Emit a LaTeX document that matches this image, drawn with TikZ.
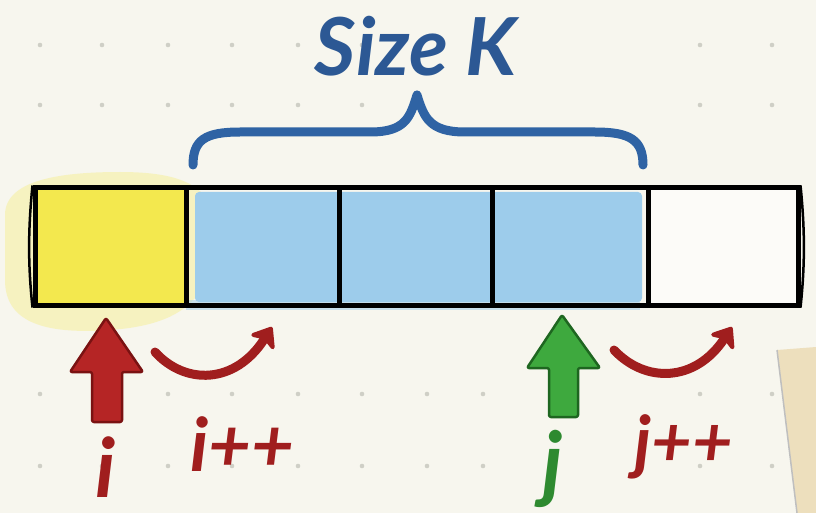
\documentclass[tikz,border=0pt]{standalone}
\usepackage{fontspec}
\setmainfont{Lato}
\usetikzlibrary{arrows.meta}
\definecolor{bg}{HTML}{F7F6EE}
\definecolor{dotc}{HTML}{CFCFC6}
\definecolor{cellyellow}{HTML}{F3E84E}
\definecolor{glowyellow}{HTML}{F6EE8A}
\definecolor{cellblue}{HTML}{9DCCEB}
\definecolor{txtblue}{HTML}{2C5894}
\definecolor{bracec}{HTML}{2F63A4}
\definecolor{redfill}{HTML}{B52525}
\definecolor{redline}{HTML}{7A1212}
\definecolor{redtxt}{HTML}{A01E1E}
\definecolor{greenfill}{HTML}{3EA93E}
\definecolor{greenline}{HTML}{1E6620}
\definecolor{greentxt}{HTML}{2E8A30}
\definecolor{notec}{HTML}{EDDFBD}
\tikzset{
  cellbox/.style={draw=black, line width=5pt, inner sep=0pt, minimum width=#1, minimum height=117pt},
  blockred/.style={fill=redfill, draw=redline, line width=2.5pt, line join=round, rounded corners=2pt},
  blockgreen/.style={fill=greenfill, draw=greenline, line width=2.5pt, line join=round, rounded corners=2pt},
  curvearrow/.style={draw=redtxt, line width=9pt, line cap=round, -{Stealth[length=22pt, width=34pt, inset=6pt, round]}},
  lbl/.style={font=\fontsize{#1}{#1}\selectfont\bfseries\itshape, inner sep=0pt, anchor=base},
  dotmark/.style={fill=dotc}
}
\begin{document}
\begin{tikzpicture}[x=1pt, y=-1pt]
\useasboundingbox (0,0) rectangle (816,513);
\fill[bg] (0,0) rectangle (816,513);
% dot grid
\foreach \yy in {45,105,394,466} {
  \foreach \xx in {40,102,168,232,298,362,700,772} {
    \fill[dotmark] (\xx,\yy) circle (2.3pt);
  }
}
\foreach \xx in {102,267,360,562,632,702,773} { \fill[dotmark] (\xx,248) circle (2.3pt); }
\foreach \xx in {427,483} { \fill[dotmark] (\xx,394) circle (2.3pt); \fill[dotmark] (\xx,466) circle (2.3pt); }
% sticky note
\fill[notec] (777,350) -- (816,347) -- (816,513) -- (797,513) -- cycle;
\draw[black!25, line width=1.5pt] (777,350) -- (797,513);
% yellow glow
\fill[glowyellow, opacity=0.45] (5,215) .. controls (5,180) and (60,172) .. (120,172) .. controls (180,172) and (215,185) .. (215,230) .. controls (215,300) and (180,325) .. (110,330) .. controls (40,335) and (5,320) .. (5,280) -- cycle;
% fills
\fill[cellyellow] (37,190) rectangle (185,303);
\fill[cellblue, rounded corners=4pt] (195,192) rectangle (642,302);
\fill[cellblue, opacity=0.5] (186,300) rectangle (640,310);
\fill[white!60!bg] (650,190) rectangle (797,303);
% cells
\node[cellbox=151pt] (c1) at (110.5,246.5) {};
\node[cellbox=153pt] (c2) at (262.5,246.5) {};
\node[cellbox=153pt] (c3) at (415.5,246.5) {};
\node[cellbox=156pt] (c4) at (570,246.5) {};
\node[cellbox=150pt] (c5) at (723,246.5) {};
\draw[line width=2.5pt] (c1.north west) .. controls (28,230) and (28,265) .. (c1.south west);
\draw[line width=2.5pt] (c5.north east) .. controls (805,230) and (805,265) .. (c5.south east);
% brace
\coordinate (bl) at (193,165);
\coordinate (bt) at (417,95);
\coordinate (br) at (643,165);
\draw[bracec, line width=9pt, line cap=round, line join=round]
  (bl) .. controls (193,140) and (205,132) .. (240,132) -- (370,132)
  .. controls (405,132) and (410,118) .. (bt)
  .. controls (424,118) and (430,132) .. (465,132) -- (595,132)
  .. controls (630,132) and (643,140) .. (br);
\node[font=\fontsize{80}{80}\selectfont\bfseries\itshape, text=txtblue, inner sep=0pt] (size) at (416,46) {Size K};
% i arrow
\draw[blockred] (106,318) -- (143,372) -- (122,372) -- (122,422) -- (92,422) -- (92,372) -- (70,372) -- cycle;
\node[lbl=82, text=redtxt] (ilbl) at (106,497) {i};
% i++ curve
\coordinate (is) at (155,352);
\coordinate (ie) at (272,327);
\draw[curvearrow] (is) .. controls (185,385) and (235,385) .. (ie);
\node[lbl=74, text=redtxt] (ipp) at (242,471) {i++};
% j arrow
\draw[blockgreen] (562,315) -- (600,368) -- (578,368) -- (578,417) -- (549,417) -- (549,368) -- (527,368) -- cycle;
\node[lbl=84, text=greentxt] (jlbl) at (553,492) {j};
% j++ curve
\coordinate (js) at (614,350);
\coordinate (je) at (732,327);
\draw[curvearrow] (js) .. controls (645,383) and (695,383) .. (je);
\node[lbl=70, text=redtxt] (jpp) at (684,466) {j++};
\end{tikzpicture}
\end{document}
